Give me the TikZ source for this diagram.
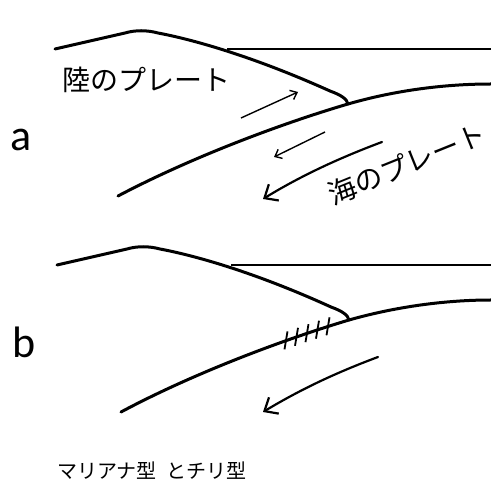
\documentclass[tikz,border=0pt]{standalone}
\usepackage{fontspec}
\newfontfamily\latinfont{Carlito}
\newfontfamily\jpfont{Noto Sans CJK JP}
\usetikzlibrary{arrows.meta}
\begin{document}
\begin{tikzpicture}[x=1pt,y=-1pt,
  plate/.style={line width=3pt,line cap=round,line join=round},
  surface/.style={line width=1.4pt},
  slip/.style={line width=1.4pt,-{Straight Barb[length=6pt,width=10pt]}},
  motion/.style={line width=2.2pt,line cap=round,-{Straight Barb[length=11pt,width=19pt]}},
  hatch/.style={line width=1.8pt},
  jplabel/.style={font=\jpfont\fontsize{28}{30}\selectfont,inner sep=0pt},
  panelname/.style={font=\latinfont\fontsize{44}{48}\selectfont,inner sep=0pt}]
\useasboundingbox (0,0) rectangle (491,486);
\fill[white] (0,0) rectangle (491,486);

% ---------- panel a ----------
\begin{scope}
  \coordinate (a-sea) at (227,49);
  \coordinate (a-east) at (491,49);
  \coordinate (a-junct) at (348,104);
  % sea surface
  \draw[surface] (a-sea) -- (a-east);
  % overriding (continental) plate
  \draw[plate] (55,49) -- (125,33) .. controls (135,30) and (147,30) .. (158,33)
     .. controls (190,39) and (250,55) .. (330,91)
     .. controls (341,95) and (347,99) .. (a-junct);
  % subducting (oceanic) plate
  \draw[plate] (118,196) .. controls (190,158) and (280,124) .. (a-junct)
     .. controls (400,89) and (450,84) .. (491,84);
  % relative motion along the interface
  \coordinate (a-s1) at (241,118); \coordinate (a-e1) at (298,92);
  \coordinate (a-s2) at (325,132); \coordinate (a-e2) at (274,157);
  \draw[slip] (a-s1) -- (a-e1);
  \draw[slip] (a-s2) -- (a-e2);
  % descent of the oceanic plate
  \coordinate (a-s3) at (382,142); \coordinate (a-e3) at (263,199);
  \draw[motion] (a-s3) .. controls (342,157) and (303,174.5) .. (a-e3);
  \node[jplabel] (land) at (147,80) {陸のプレート};
  \node[jplabel,rotate=22] (ocean) at (407,164) {海のプレート};
  \node[panelname] (pa) at (21,140) {a};
\end{scope}

% ---------- panel b ----------
\begin{scope}[shift={(2,216)}]
  \coordinate (b-sea) at (229,49);
  \coordinate (b-east) at (489,49);
  \coordinate (b-junct) at (347,104);
  \draw[surface] (b-sea) -- (b-east);
  \draw[plate] (55,49) -- (125,33) .. controls (135,30) and (147,30) .. (158,33)
     .. controls (190,39) and (250,55) .. (329,91)
     .. controls (340,95) and (346,99) .. (b-junct);
  \draw[plate] (119,196) .. controls (190,158) and (280,124) .. (b-junct)
     .. controls (400,89) and (450,84) .. (489,84);
  \coordinate (b-s3) at (376,141); \coordinate (b-e3) at (261,196);
  \draw[motion] (b-s3) .. controls (336,156) and (301,172) .. (b-e3);
  % locked zone on the plate interface
  \foreach \cx/\cy in {284/124.4, 294.5/120.8, 305/117.2, 315.5/113.7, 326/110.3}
    \draw[hatch] (\cx+1.5,\cy-9) -- (\cx-1.5,\cy+9);
\end{scope}
\node[panelname] (pb) at (24,342) {b};

% ---------- caption ----------
\node[font=\jpfont\fontsize{20}{22}\selectfont,inner sep=0pt,anchor=west] (caption)
  at (57,471) {マリアナ型\hspace{0.5em}とチリ型};
\end{tikzpicture}
\end{document}
